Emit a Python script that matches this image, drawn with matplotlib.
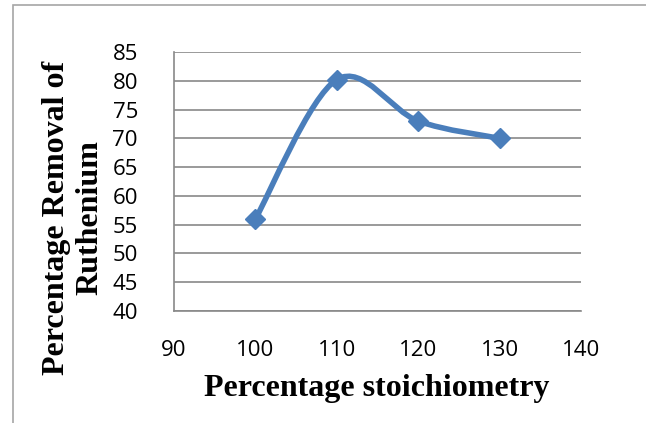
import numpy as np
import matplotlib
matplotlib.use("Agg")
import matplotlib.pyplot as plt
from matplotlib.path import Path
from matplotlib.patches import PathPatch, Rectangle

stoich = [100, 110, 120, 130]
removal = [56.0, 80.2, 73.0, 70.0]
xticks = [90, 100, 110, 120, 130, 140]
yticks = [40, 45, 50, 55, 60, 65, 70, 75, 80, 85]

blue = "#4a7ebb"
grid = "#898989"


def smooth_path(x, y):
    # Excel-style smoothing: Catmull-Rom curve drawn as cubic Bezier pieces
    pts = np.column_stack([x, y]).astype(float)
    ext = np.vstack([pts[0], pts, pts[-1]])
    verts = [pts[0]]
    codes = [Path.MOVETO]
    for i in range(1, len(ext) - 2):
        p0, p1, p2, p3 = ext[i - 1], ext[i], ext[i + 1], ext[i + 2]
        verts += [p1 + (p2 - p0) / 6, p2 - (p3 - p1) / 6, p2]
        codes += [Path.CURVE4] * 3
    return Path(verts, codes)


fig = plt.figure(figsize=(6.46, 4.23), dpi=100)
ax = fig.add_axes([174 / 646, 1 - 311 / 423, (581 - 174) / 646, (311 - 52) / 423])

ax.set_xlim(90, 140)
ax.set_ylim(40, 85)
ax.set_xticks(xticks)
ax.set_yticks(yticks)
for v in yticks:
    ax.axhline(v, color=grid, lw=1.2, zorder=1)

ax.add_patch(PathPatch(smooth_path(stoich, removal), fc="none", ec=blue,
                       lw=4, capstyle="round", zorder=3))
ax.plot(stoich, removal, "D", color=blue, ms=10, zorder=4)

for s in ["top", "right"]:
    ax.spines[s].set_visible(False)
ax.spines["left"].set_color(grid)
ax.spines["bottom"].set_color(grid)
ax.spines["left"].set_linewidth(1.2)
ax.spines["bottom"].set_linewidth(1.2)
ax.tick_params(length=0, labelsize=16, colors="black")
ax.tick_params(axis="y", pad=26)
ax.tick_params(axis="x", pad=21)
for lab in ax.get_xticklabels() + ax.get_yticklabels():
    lab.set_fontfamily("Open Sans")

fig.text(377 / 646, 1 - 388 / 423, "Percentage stoichiometry", ha="center", va="center",
         fontfamily="Liberation Serif", fontweight="bold", fontsize=23)
fig.text(73 / 646, 1 - 218 / 423, "Percentage Removal of\nRuthenium", ha="center", va="center",
         rotation=90, fontfamily="Liberation Serif", fontweight="bold", fontsize=23,
         linespacing=1.2, multialignment="center")

fig.patches.append(Rectangle((13.5 / 646, -0.1), 1.1, 1 - 5.5 / 423 + 0.1, transform=fig.transFigure,
                             fc="none", ec="#a6a6a6", lw=1.2))

fig.savefig("out.png", dpi=100)
